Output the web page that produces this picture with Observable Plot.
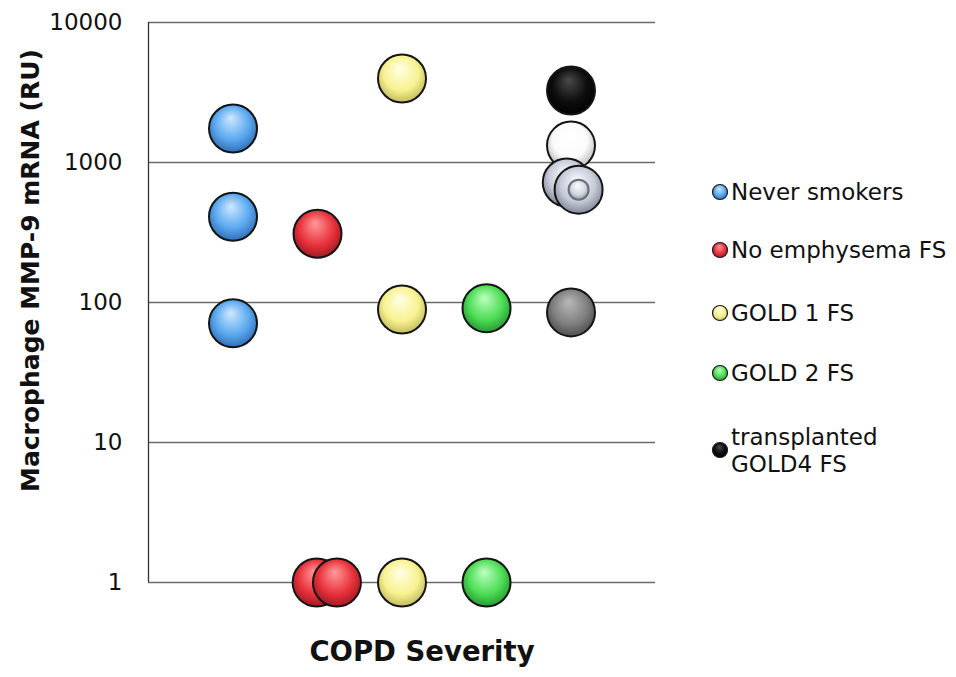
<!DOCTYPE html>
<html><head><meta charset="utf-8">
<script src="https://cdn.jsdelivr.net/npm/d3@7"></script>
<script src="https://cdn.jsdelivr.net/npm/@observablehq/plot@0.6"></script>
<style>
body{margin:0;background:#fff;}
svg{font-family:"DejaVu Sans",Verdana,sans-serif;}
</style>
</head><body><div id="chart"></div>
<script>
// ---- data ----
const groups = ["Never smokers", "No emphysema FS", "GOLD 1 FS", "GOLD 2 FS", "transplanted GOLD4 FS"];
const groupShade = ["blue", "red", "yellow", "green", "black"];
const neverSmokers = [1750, 410, 71];
const noEmphysema = [310, 1, 1];
const noEmphysemaJitter = [0, -0.01, 0.23];
const gold1 = [3980, 89, 1];
const gold2 = [91, 1];
const gold4 = [3270, 1320, 720, 640, 85];
const gold4Jitter = [0, 0, -0.05, 0.09, 0];
const gold4Shade = ["black", "white", "silver", "silverRing", "gray"];
const yTicks = [1, 10, 100, 1000, 10000];

// ---- table ----
const rows = [];
neverSmokers.forEach(v => rows.push({g: 1, value: v, jitter: 0, shade: "blue"}));
noEmphysema.forEach((v, i) => rows.push({g: 2, value: v, jitter: noEmphysemaJitter[i], shade: "red"}));
gold1.forEach(v => rows.push({g: 3, value: v, jitter: 0, shade: "yellow"}));
gold2.forEach(v => rows.push({g: 4, value: v, jitter: 0, shade: "green"}));
gold4.forEach((v, i) => rows.push({g: 5, value: v, jitter: gold4Jitter[i], shade: gold4Shade[i]}));

const shades = ["blue", "red", "yellow", "green", "black", "white", "silver", "silverRing", "gray"];
const dotMarks = shades.map(s => Plot.dot(rows.filter(d => d.shade === s), {
  x: d => d.g + d.jitter, y: "value", r: 24,
  fill: `url(#grad-${s === "silverRing" ? "silver" : s})`, stroke: "#151515", strokeWidth: 2
}));
const ringMark = Plot.dot(rows.filter(d => d.shade === "silverRing"), {
  x: d => d.g + d.jitter, y: "value", r: 10,
  fill: "url(#grad-ring)", stroke: "#6a6f7a", strokeWidth: 2
});

const chart = Plot.plot({
  width: 956, height: 677,
  marginLeft: 148, marginRight: 301, marginTop: 22, marginBottom: 95,
  style: {fontFamily: '"DejaVu Sans", Verdana, sans-serif', background: "#fff"},
  x: {type: "linear", domain: [0, 6], axis: null},
  y: {type: "log", domain: [1, 10000], axis: null},
  marks: [
    Plot.ruleY(yTicks, {stroke: "#6b6b6b", strokeWidth: 1.3}),
    Plot.ruleX([0], {stroke: "#333", strokeWidth: 1.3}),
    Plot.axisY({ticks: yTicks, tickFormat: d => String(d), tickSize: 0, tickPadding: 26, fontSize: 23, label: null, fill: "#111"}),
    ...dotMarks,
    ringMark,
    Plot.text(["Macrophage MMP-9 mRNA (RU)"], {frameAnchor: "left", textAnchor: "middle", rotate: -90, dx: -118, dy: -32, fontSize: 25, fontWeight: "bold", fill: "#111"}),
    Plot.text(["COPD Severity"], {frameAnchor: "bottom", dx: 20, dy: 78, fontSize: 27.5, fontWeight: "bold", fill: "#111"})
  ]
});

// gradients
const gradStops = {
  blue: ["#cfe8ff", "#5aa8ef", "#2c69b0"],
  red: ["#ff9a9a", "#e8323c", "#9a1820"],
  yellow: ["#fffee8", "#f8f290", "#bdb55a"],
  green: ["#bfffc0", "#4ddc55", "#239430"],
  black: ["#4a4a4a", "#0d0d0d", "#000"],
  white: ["#ffffff", "#fbfbfb", "#b5b5b5"],
  silver: ["#f6f8fc", "#c6cbd8", "#7a8190"],
  gray: ["#b8b8b8", "#808080", "#4a4a4a"],
  ring: ["#fbfcff", "#d4d8e2", "#8a90a0"]
};
const svg = d3.select(chart);
const defs = svg.insert("defs", ":first-child");
Object.entries(gradStops).forEach(([k, c]) => {
  const g = defs.append("radialGradient").attr("id", `grad-${k}`)
    .attr("cx", "50%").attr("cy", "45%").attr("r", "58%").attr("fx", "45%").attr("fy", "28%");
  g.append("stop").attr("offset", "0%").attr("stop-color", c[0]);
  g.append("stop").attr("offset", "62%").attr("stop-color", c[1]);
  g.append("stop").attr("offset", "100%").attr("stop-color", c[2]);
});

// legend
const legendRows = [192, 250, 313, 373, 450];
const leg = svg.append("g").attr("font-family", '"DejaVu Sans", Verdana, sans-serif')
  .attr("font-size", 23).attr("fill", "#111").attr("text-anchor", "start");
groups.forEach((name, i) => {
  const y = legendRows[i];
  leg.append("circle").attr("cx", 720).attr("cy", y).attr("r", 7.5)
    .attr("fill", `url(#grad-${groupShade[i]})`).attr("stroke", "#1a1a1a").attr("stroke-width", 1.2);
  const t = leg.append("text").attr("x", 731).attr("y", y).attr("dy", "0.36em");
  if (name === "transplanted GOLD4 FS") {
    t.attr("y", y - 13);
    t.append("tspan").attr("x", 731).text("transplanted");
    t.append("tspan").attr("x", 731).attr("dy", "1.15em").text("GOLD4 FS");
  } else {
    t.text(name);
  }
});

document.getElementById("chart").appendChild(chart);
</script>
</body></html>
